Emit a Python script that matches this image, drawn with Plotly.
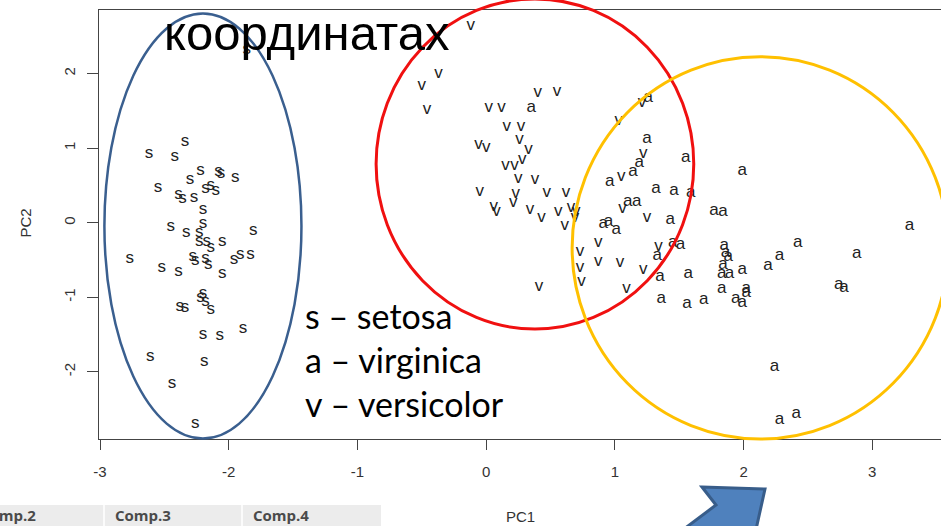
import plotly.graph_objects as go

# Principal component scores (PC1, PC2) for each iris species
setosa_pc1 = [-1.86, -2.34, -2.62, -2.42, -2.22, -2.30, -2.08, -2.06, -1.95, -2.55,
              -2.18, -2.14, -2.10, -2.39, -2.36, -2.27, -2.20, -2.45, -2.20, -2.33,
              -2.23, -1.81, -2.23, -2.17, -2.14, -2.05, -2.77, -2.28, -2.26, -2.18,
              -2.16, -1.96, -1.91, -1.83, -2.52, -2.39, -2.05, -2.20, -2.22, -2.18,
              -2.14, -2.38, -2.34, -2.20, -2.07, -1.89, -2.61, -2.19, -2.44, -2.26]
setosa_pc2 = [2.32, 1.09, 0.92, 0.88, 0.70, 0.58, 0.68, 0.65, 0.60, 0.47,
              0.46, 0.50, 0.43, 0.37, 0.32, 0.34, 0.17, -0.06, -0.02, -0.14,
              -0.14, -0.11, -0.26, -0.26, -0.34, -0.26, -0.48, -0.45, -0.51, -0.48,
              -0.56, -0.49, -0.43, -0.43, -0.61, -0.66, -0.68, -0.95, -1.01, -1.06,
              -1.16, -1.13, -1.14, -1.50, -1.51, -1.42, -1.79, -1.87, -2.16, -2.69]

versicolor_pc1 = [-0.12, -0.37, -0.50, -0.46, 0.02, 0.12, 0.40, 0.55, 0.16, 0.27,
                  -0.06, 0.00, 0.26, 0.33, 0.15, 0.22, 0.28, 0.25, 0.38, -0.05,
                  0.23, 0.21, 0.47, 0.62, 0.06, 0.08, 0.34, 0.43, 0.56, 0.61,
                  0.66, 0.70, 0.69, 0.41, 0.73, 0.73, 0.74, 0.87, 0.87, 1.04,
                  1.09, 1.22, 1.34, 1.06, 1.25, 1.05, 1.22, 1.21, 1.03]
versicolor_pc2 = [2.64, 1.99, 1.83, 1.52, 1.54, 1.54, 1.74, 1.75, 1.29, 1.29,
                  1.04, 1.01, 1.11, 0.98, 0.77, 0.76, 0.84, 0.59, 0.58, 0.42,
                  0.39, 0.27, 0.40, 0.40, 0.21, 0.15, 0.17, 0.06, 0.15, -0.04,
                  0.20, 0.15, 0.07, -0.86, -0.39, -0.60, -0.79, -0.27, -0.52, -0.53,
                  -0.88, -0.63, -0.32, 0.19, 0.07, 0.62, 0.93, 1.61, 1.37]

virginica_pc1 = [0.35, 1.26, 1.25, 1.19, 1.55, 1.99, 0.96, 1.14, 1.32, 1.46,
                 1.59, 1.77, 1.84, 1.10, 1.17, 1.43, 0.91, 0.95, 1.01, 1.33,
                 1.45, 1.51, 1.35, 1.57, 1.36, 1.56, 1.69, 1.85, 1.86, 1.88,
                 1.84, 1.83, 1.89, 1.83, 1.99, 2.02, 2.02, 1.94, 1.99, 2.19,
                 2.28, 2.42, 2.88, 2.74, 2.78, 3.29, 2.24, 2.28, 2.41]
virginica_pc2 = [1.54, 1.67, 1.13, 0.80, 0.87, 0.69, 0.55, 0.68, 0.45, 0.43,
                 0.40, 0.16, 0.15, 0.28, 0.28, 0.04, -0.02, 0.01, -0.09, -0.44,
                 -0.27, -0.29, -0.72, -0.68, -1.02, -1.08, -1.03, -0.31, -0.40, -0.45,
                 -0.57, -0.69, -0.69, -0.88, -0.63, -0.89, -0.94, -1.02, -1.07, -0.58,
                 -0.44, -0.27, -0.42, -0.83, -0.87, -0.04, -1.93, -2.64, -2.56]

x_ticks = [-3, -2, -1, 0, 1, 2, 3]
y_ticks = [-2, -1, 0, 1, 2]
legend_lines = ["s – setosa", "a – virginica", "v – versicolor"]
table_headers = ["Comp.2", "Comp.3", "Comp.4"]

X_RANGE = [-3.008, 3.534]
Y_RANGE = [-2.899, 2.851]
W, H = 941, 526
M_L, M_R, M_T, M_B = 99, 0, 10, 87
PLOT_W = W - M_L - M_R
PLOT_H = H - M_T - M_B


def xp(px):
    """Horizontal page pixel -> paper fraction."""
    return (px - M_L) / PLOT_W


def yp(py):
    """Vertical page pixel (from top) -> paper fraction."""
    return (H - M_B - py) / PLOT_H


def dx(v):
    """PC1 value -> paper fraction."""
    return (v - X_RANGE[0]) / (X_RANGE[1] - X_RANGE[0])


def dy(v):
    """PC2 value -> paper fraction."""
    return (v - Y_RANGE[0]) / (Y_RANGE[1] - Y_RANGE[0])


LETTER_FONT = dict(family="Liberation Sans, Arial, sans-serif", size=17, color="#222222")

fig = go.Figure()
for xs, ys, ch in [(setosa_pc1, setosa_pc2, "s"),
                   (versicolor_pc1, versicolor_pc2, "v"),
                   (virginica_pc1, virginica_pc2, "a")]:
    fig.add_trace(go.Scatter(x=xs, y=ys, mode="text", text=[ch] * len(xs),
                             textposition="middle center", textfont=LETTER_FONT,
                             hoverinfo="skip", showlegend=False, cliponaxis=False))

axis_font = dict(family="Liberation Sans, Arial, sans-serif", size=15, color="#333333")

fig.update_layout(
    width=W, height=H,
    margin=dict(l=M_L, r=M_R, t=M_T, b=M_B, pad=0),
    paper_bgcolor="white", plot_bgcolor="white",
    showlegend=False,
    xaxis=dict(range=X_RANGE, tickmode="array", tickvals=x_ticks,
               ticktext=[str(t) for t in x_ticks], ticks="outside", ticklen=10,
               tickwidth=1, tickcolor="#444", showline=True, linecolor="#444",
               linewidth=1, mirror=True, showgrid=False, zeroline=False,
               tickfont=axis_font, ticklabelstandoff=9),
    yaxis=dict(range=Y_RANGE, tickmode="array", tickvals=y_ticks,
               ticktext=[str(t) for t in y_ticks], ticks="outside", ticklen=11,
               tickwidth=1, tickcolor="#444", showline=True, linecolor="#444",
               linewidth=1, showgrid=False, zeroline=False, tickangle=-90,
               tickfont=axis_font, ticklabelstandoff=6),
)

shapes = []
# cluster outlines
shapes.append(dict(type="circle", xref="paper", yref="paper",
                   x0=dx(-2.966), x1=dx(-1.435), y0=dy(-2.893), y1=dy(2.804),
                   line=dict(color="#3A5F8F", width=2.5)))
shapes.append(dict(type="circle", xref="paper", yref="paper",
                   x0=dx(-0.855), x1=dx(1.613), y0=dy(-1.425), y1=dy(3.0),
                   line=dict(color="#F01010", width=3)))
shapes.append(dict(type="circle", xref="paper", yref="paper",
                   x0=dx(0.668), x1=dx(3.592), y0=dy(-2.899), y1=dy(2.225),
                   line=dict(color="#FFC000", width=3)))

# header strip of the loadings table
shapes.append(dict(type="rect", xref="paper", yref="paper",
                   x0=xp(-2), x1=xp(381), y0=yp(505), y1=yp(530),
                   fillcolor="#ECECEC", line=dict(width=0), layer="below"))
for sep in (104, 242):
    shapes.append(dict(type="line", xref="paper", yref="paper",
                       x0=xp(sep), x1=xp(sep), y0=yp(505), y1=yp(530),
                       line=dict(color="#FBFBFB", width=2)))

# block arrow pointing up and to the right
arrow_pts = [(702, 487), (765, 489), (751, 552), (738, 533),
             (682, 575), (660, 547), (716, 505)]
path = "M " + " L ".join(f"{xp(a):.5f},{yp(b):.5f}" for a, b in arrow_pts) + " Z"
shapes.append(dict(type="path", xref="paper", yref="paper", path=path,
                   fillcolor="#4F81BD", line=dict(color="#385D8A", width=3)))
fig.update_layout(shapes=shapes)

ann = []
ann.append(dict(text="координатах", x=xp(306), y=yp(33.5), xref="paper", yref="paper",
                xanchor="center", yanchor="middle", showarrow=False,
                font=dict(family="Liberation Sans, Arial, sans-serif", size=49, color="black")))
for i, line in enumerate(legend_lines):
    ann.append(dict(text=line, x=xp(303), y=yp(315 + 44 * i), xref="paper", yref="paper",
                    xanchor="left", yanchor="middle", showarrow=False,
                    font=dict(family="Lato, sans-serif", size=34, color="black")))
ann.append(dict(text="PC1", x=xp(520), y=yp(516), xref="paper", yref="paper",
                xanchor="center", yanchor="middle", showarrow=False, font=axis_font))
ann.append(dict(text="PC2", x=xp(25), y=yp(223.5), xref="paper", yref="paper",
                xanchor="center", yanchor="middle", showarrow=False, textangle=-90,
                font=axis_font))
hdr_font = dict(family="Open Sans, sans-serif", size=15, color="#4A4A4A", weight="bold")
ann.append(dict(text=table_headers[0], x=xp(38), y=yp(514.5), xref="paper", yref="paper",
                xanchor="right", yanchor="middle", showarrow=False, font=hdr_font))
ann.append(dict(text=table_headers[1], x=xp(113), y=yp(514.5), xref="paper", yref="paper",
                xanchor="left", yanchor="middle", showarrow=False, font=hdr_font))
ann.append(dict(text=table_headers[2], x=xp(251), y=yp(514.5), xref="paper", yref="paper",
                xanchor="left", yanchor="middle", showarrow=False, font=hdr_font))
fig.update_layout(annotations=ann)

fig.write_html("out.html")
